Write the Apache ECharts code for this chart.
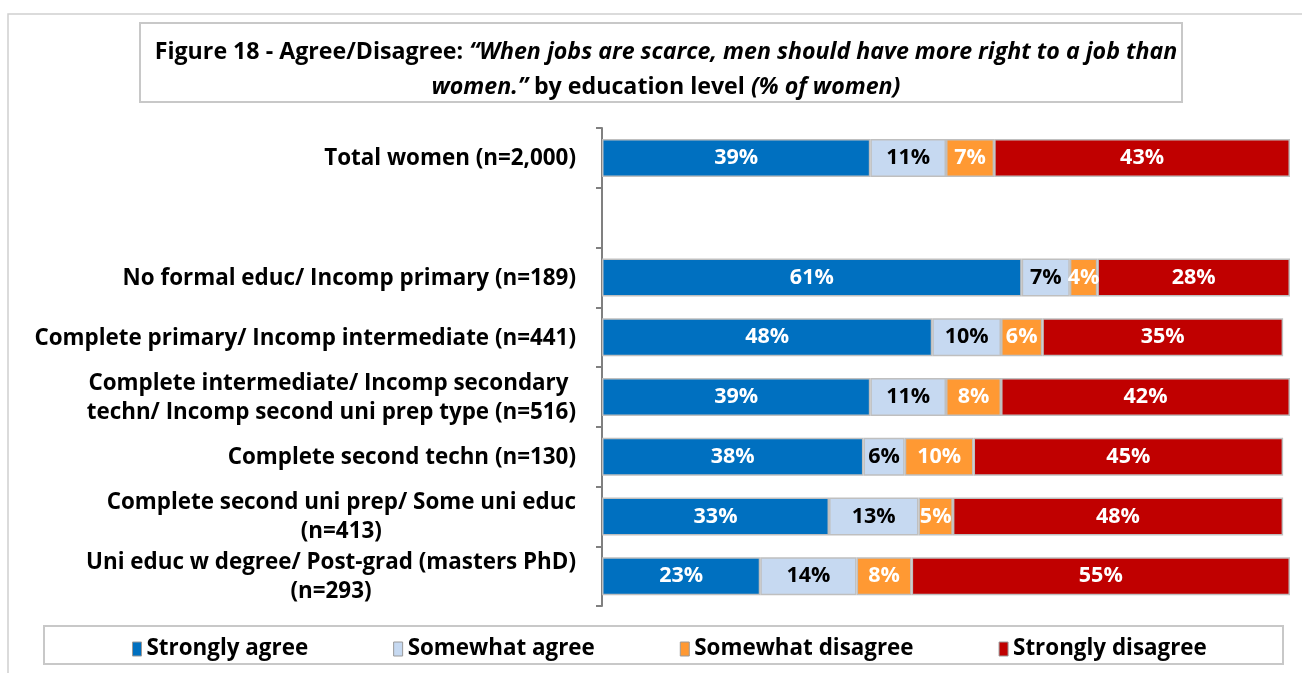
<!DOCTYPE html>
<html>
<head>
<meta charset="utf-8">
<script src="https://cdn.jsdelivr.net/npm/echarts@6/dist/echarts.min.js"></script>
<style>
  html, body { margin: 0; padding: 0; background: #fff; }
  #chart { width: 1302px; height: 673px; }
</style>
</head>
<body>
<div id="chart"></div>
<script>
// Education groups, top to bottom (the empty entry is a spacer row)
const categories = [
  'Total women (n=2,000)',
  '',
  'No formal educ/ Incomp primary (n=189)',
  'Complete primary/ Incomp intermediate (n=441)',
  'Complete intermediate/ Incomp secondary \ntechn/ Incomp second uni prep type (n=516)',
  'Complete second techn (n=130)',
  'Complete second uni prep/ Some uni educ\n(n=413)',
  'Uni educ w degree/ Post-grad (masters PhD)\n(n=293)'
];

// Share of women per answer (%)
const stronglyAgree    = [39, '-', 61, 48, 39, 38, 33, 23];
const somewhatAgree    = [11, '-', 7, 10, 11, 6, 13, 14];
const somewhatDisagree = [7, '-', 4, 6, 8, 10, 5, 8];
const stronglyDisagree = [43, '-', 28, 35, 42, 45, 48, 55];

const seriesNames = ['Strongly agree', 'Somewhat agree', 'Somewhat disagree', 'Strongly disagree'];
const colors = ['#0070C0', '#C6D9F1', '#FF9933', '#C00000'];
const labelColors = ['#ffffff', '#000000', '#ffffff', '#ffffff'];

const FONT = "'Open Sans', 'Liberation Sans', sans-serif";
const FS = 22.4;

const chart = echarts.init(document.getElementById('chart'));

function makeSeries(name, data, i) {
  return {
    name: name,
    type: 'bar',
    stack: 'total',
    data: data,
    barWidth: 38,
    itemStyle: { color: colors[i], borderColor: '#BFBFBF', borderWidth: 1.5 },
    label: {
      show: true,
      position: 'inside',
      formatter: p => (p.value === '-' ? '' : p.value + '%'),
      color: labelColors[i],
      fontFamily: FONT,
      fontWeight: 'bold',
      fontSize: 21.5
    },
    emphasis: { disabled: true }
  };
}

const option = {
  animation: false,
  backgroundColor: '#ffffff',
  title: {
    left: 661,
    top: 30,
    textAlign: 'center',
    text: '{b|Figure 18 - Agree/Disagree: }{bi|\u201cWhen jobs are scarce, men should have more right to a job than}\n{bi|women.\u201d}{b| by education level }{bi|(% of women)}',
    textStyle: {
      rich: {
        b:  { fontFamily: FONT, fontWeight: 'bold', fontSize: 23.2, color: '#000', lineHeight: 35 },
        bi: { fontFamily: FONT, fontWeight: 'bold', fontStyle: 'italic', fontSize: 23.2, color: '#000', lineHeight: 35 }
      }
    }
  },
  legend: {
    left: 127,
    top: 633,
    itemWidth: 9,
    itemHeight: 14,
    itemGap: 85,
    icon: 'rect',
    itemStyle: { borderColor: '#9a9a9a', borderWidth: 1 },
    textStyle: { fontFamily: FONT, fontWeight: 'bold', fontSize: FS, color: '#000' },
    data: seriesNames
  },
  grid: { left: 602, right: 12, top: 128, bottom: 67, containLabel: false },
  xAxis: {
    type: 'value',
    min: 0,
    max: 100,
    show: false
  },
  yAxis: {
    type: 'category',
    inverse: true,
    data: categories,
    axisLine: { show: true, lineStyle: { color: '#808080', width: 2 } },
    axisTick: { show: true, length: 6, lineStyle: { color: '#808080', width: 2 } },
    axisLabel: {
      margin: 26,
      align: 'right',
      color: '#000',
      fontFamily: FONT,
      fontWeight: 'bold',
      fontSize: FS,
      lineHeight: 29,
      formatter: v => v.split('\n').map(l => '{c|' + l + '}').join('\n'),
      rich: {
        c: { align: 'center', fontFamily: FONT, fontWeight: 'bold', fontSize: FS, lineHeight: 29, color: '#000', padding: [2, 0, 0, 0] }
      }
    }
  },
  graphic: [
    // outer frame
    { type: 'rect', shape: { x: 8, y: 14, width: 1300, height: 680 }, style: { fill: 'none', stroke: '#D0D0D0', lineWidth: 1.5 }, silent: true, z: -1 },
    // title box
    { type: 'rect', shape: { x: 140, y: 23, width: 1042, height: 79 }, style: { fill: 'none', stroke: '#C8C8C8', lineWidth: 2 }, silent: true, z: -1 },
    // legend box
    { type: 'rect', shape: { x: 44, y: 626, width: 1239, height: 38 }, style: { fill: 'none', stroke: '#C8C8C8', lineWidth: 2 }, silent: true, z: -1 }
  ],
  series: [
    makeSeries(seriesNames[0], stronglyAgree, 0),
    makeSeries(seriesNames[1], somewhatAgree, 1),
    makeSeries(seriesNames[2], somewhatDisagree, 2),
    makeSeries(seriesNames[3], stronglyDisagree, 3)
  ]
};

chart.setOption(option);
</script>
</body>
</html>
